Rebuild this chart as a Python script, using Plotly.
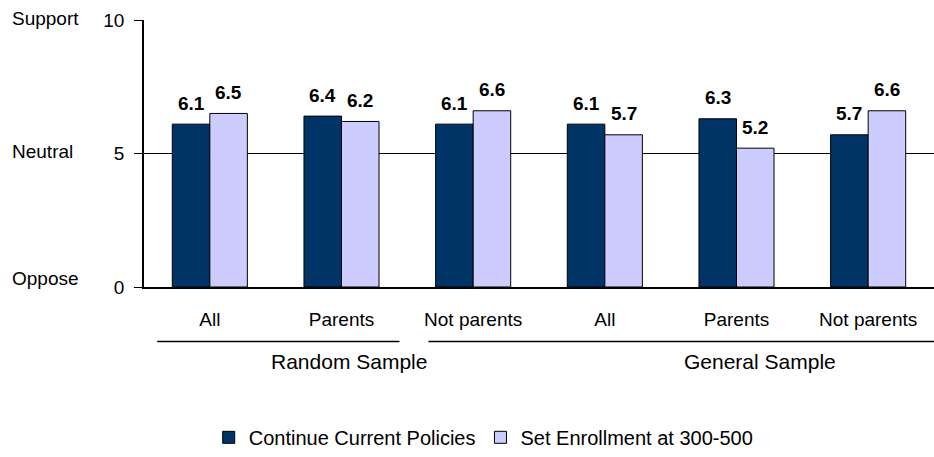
import plotly.graph_objects as go

categories = ["All", "Parents", "Not parents", "All", "Parents", "Not parents"]
groups = ["Random Sample", "General Sample"]
continue_current = [6.1, 6.4, 6.1, 6.1, 6.3, 5.7]
set_enrollment = [6.5, 6.2, 6.6, 5.7, 5.2, 6.6]
y_ticks = [0, 5, 10]
y_words = ["Oppose", "Neutral", "Support"]

xpos = list(range(len(categories)))
FONT = "Liberation Sans, Arial, sans-serif"
DARK = "#003366"
LIGHT = "#CCCCFF"

fig = go.Figure()
fig.add_trace(go.Bar(x=xpos, y=continue_current, name="Continue Current Policies",
                     marker=dict(color=DARK, line=dict(color="black", width=1))))
fig.add_trace(go.Bar(x=xpos, y=set_enrollment, name="Set Enrollment at 300-500",
                     marker=dict(color=LIGHT, line=dict(color="black", width=1))))

bargap = 0.43
half = (1 - bargap) / 4
annotations = []
for i in xpos:
    for val, off in ((continue_current[i], -half), (set_enrollment[i], half)):
        annotations.append(dict(x=i + off, y=val, xref="x", yref="y", text=f"<b>{val:.1f}</b>",
                                showarrow=False, yshift=21, font=dict(size=19, color="black", family=FONT)))

for yv, w in zip(y_ticks, y_words):
    annotations.append(dict(x=-0.170, y=yv, xref="paper", yref="y", text=w, showarrow=False,
                            xanchor="left", yshift=(9 if yv == 0 else 2),
                            font=dict(size=19, color="black", family=FONT)))

# group labels
group_spans = [(-0.40, 1.44), (1.66, 5.5)]
group_centers = [1.06, 4.18]
shapes = []
for (a, b), c, g in zip(group_spans, group_centers, groups):
    shapes.append(dict(type="line", xref="x", yref="paper", x0=a, x1=b, y0=-0.204, y1=-0.204,
                       line=dict(color="black", width=1.5)))
    annotations.append(dict(x=c, y=-0.204, xref="x", yref="paper",
                            text=g, showarrow=False, yanchor="top", yshift=-7,
                            font=dict(size=21, color="black", family=FONT)))

fig.update_layout(
    width=934, height=457,
    margin=dict(l=144, r=0, t=20, b=167),
    paper_bgcolor="white", plot_bgcolor="white",
    barmode="group", bargap=bargap, bargroupgap=0,
    font=dict(family=FONT, size=19, color="black"),
    showlegend=True,
    legend=dict(orientation="h", x=0.43, xanchor="center", y=-0.563, yanchor="middle",
                font=dict(size=20, family=FONT), itemwidth=30, traceorder="normal"),
    annotations=annotations,
    shapes=shapes,
)
fig.update_xaxes(tickmode="array", tickvals=xpos, ticktext=categories, range=[-0.5, 5.5],
                 showline=True, linecolor="black", linewidth=1.5, ticks="", showgrid=False,
                 tickfont=dict(size=19), ticklabelstandoff=14)
fig.update_yaxes(range=[0, 10], tickvals=y_ticks, showgrid=True, gridcolor="black", gridwidth=1,
                 showline=True, linecolor="black", linewidth=1.5, ticks="outside", ticklen=8,
                 tickcolor="black", tickfont=dict(size=19), ticklabelstandoff=6, zeroline=False)

fig.write_html("out.html")
